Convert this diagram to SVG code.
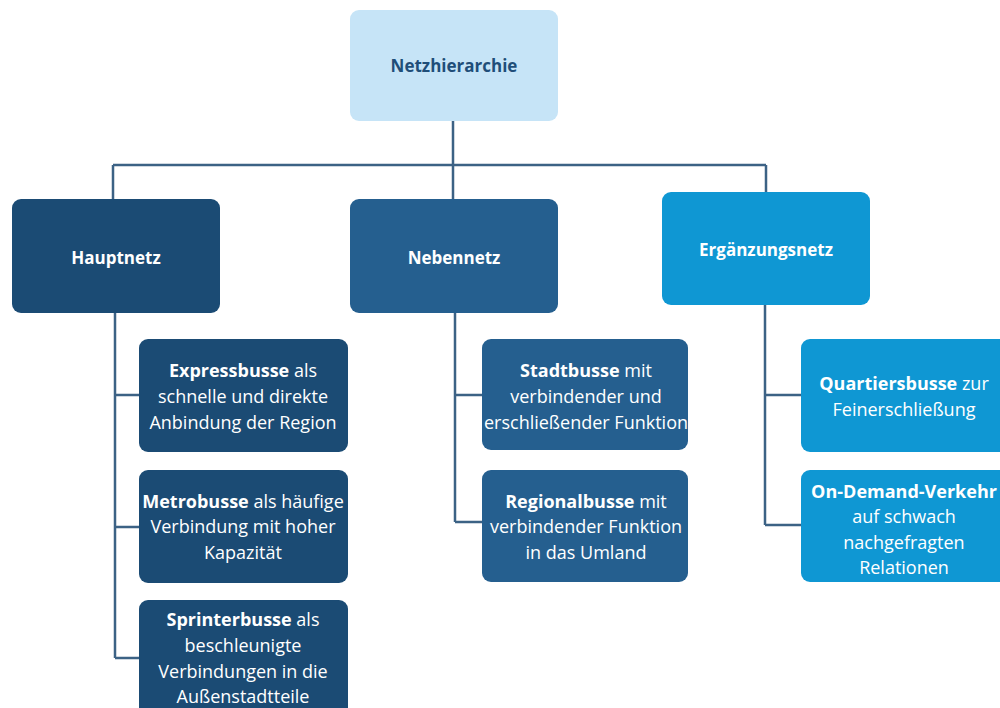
<svg xmlns="http://www.w3.org/2000/svg" width="1000" height="708" viewBox="0 0 1000 708">
<style>
.t{font-family:"Open Sans","Noto Sans","Liberation Sans",sans-serif;font-size:18px;text-anchor:middle;fill:#fff}
.h{font-size:17px;font-weight:bold}
.b{font-weight:bold}
.top{fill:#C6E4F7}
.haupt{fill:#1B4B74}
.neben{fill:#255F8F}
.erg{fill:#0F97D3}
.conn{fill:none;stroke:#3C6285;stroke-width:2.5}
</style>
<rect width="1000" height="708" fill="#fff"/>
<g id="connectors" class="conn">
<path d="M453 121V165M113 165H766M113 165V199M453 165V199M766 165V192"/>
<path d="M115 313V658M115 395H139M115 527H139M115 658H139"/>
<path d="M455 313V522M455 395H482M455 522H482"/>
<path d="M765 305V525M765 395H801M765 525H801"/>
</g>
<g id="netzhierarchie">
<rect class="top" x="350" y="10" width="208" height="111" rx="9"/>
<text class="t h" x="454" y="72" style="fill:#1F4E79">Netzhierarchie</text>
</g>
<g id="hauptnetz">
<rect class="haupt" x="12" y="199" width="208" height="114" rx="9"/>
<text class="t h" x="116" y="264">Hauptnetz</text>
</g>
<g id="nebennetz">
<rect class="neben" x="350" y="199" width="208" height="114" rx="9"/>
<text class="t h" x="454" y="264">Nebennetz</text>
</g>
<g id="ergaenzungsnetz">
<rect class="erg" x="662" y="192" width="208" height="113" rx="9"/>
<text class="t h" x="766" y="256">Ergänzungsnetz</text>
</g>
<g id="expressbusse">
<rect class="haupt" x="139" y="339" width="209" height="113" rx="9"/>
<text class="t" x="243" y="377"><tspan class="b">Expressbusse</tspan> als</text>
<text class="t" x="243" y="403">schnelle und direkte</text>
<text class="t" x="243" y="429">Anbindung der Region</text>
</g>
<g id="metrobusse">
<rect class="haupt" x="139" y="470" width="209" height="113" rx="9"/>
<text class="t" x="243" y="508"><tspan class="b">Metrobusse</tspan> als häufige</text>
<text class="t" x="243" y="533">Verbindung mit hoher</text>
<text class="t" x="243" y="559">Kapazität</text>
</g>
<g id="sprinterbusse">
<rect class="haupt" x="139" y="600" width="209" height="125" rx="9"/>
<text class="t" x="243" y="626"><tspan class="b">Sprinterbusse</tspan> als</text>
<text class="t" x="243" y="652">beschleunigte</text>
<text class="t" x="243" y="678">Verbindungen in die</text>
<text class="t" x="243" y="703">Außenstadtteile</text>
</g>
<g id="stadtbusse">
<rect class="neben" x="482" y="339" width="206" height="111" rx="9"/>
<text class="t" x="586" y="377"><tspan class="b">Stadtbusse</tspan> mit</text>
<text class="t" x="586" y="403">verbindender und</text>
<text class="t" x="586" y="429">erschließender Funktion</text>
</g>
<g id="regionalbusse">
<rect class="neben" x="482" y="470" width="206" height="112" rx="9"/>
<text class="t" x="586" y="508"><tspan class="b">Regionalbusse</tspan> mit</text>
<text class="t" x="586" y="533">verbindender Funktion</text>
<text class="t" x="586" y="559">in das Umland</text>
</g>
<g id="quartiersbusse">
<rect class="erg" x="801" y="339" width="210" height="113" rx="9"/>
<text class="t" x="904" y="390"><tspan class="b">Quartiersbusse</tspan> zur</text>
<text class="t" x="904" y="416">Feinerschließung</text>
</g>
<g id="ondemand">
<rect class="erg" x="801" y="470" width="210" height="112" rx="9"/>
<text class="t" x="904" y="498"><tspan class="b">On-Demand-Verkehr</tspan></text>
<text class="t" x="904" y="523">auf schwach</text>
<text class="t" x="904" y="549">nachgefragten</text>
<text class="t" x="904" y="574">Relationen</text>
</g>
</svg>
